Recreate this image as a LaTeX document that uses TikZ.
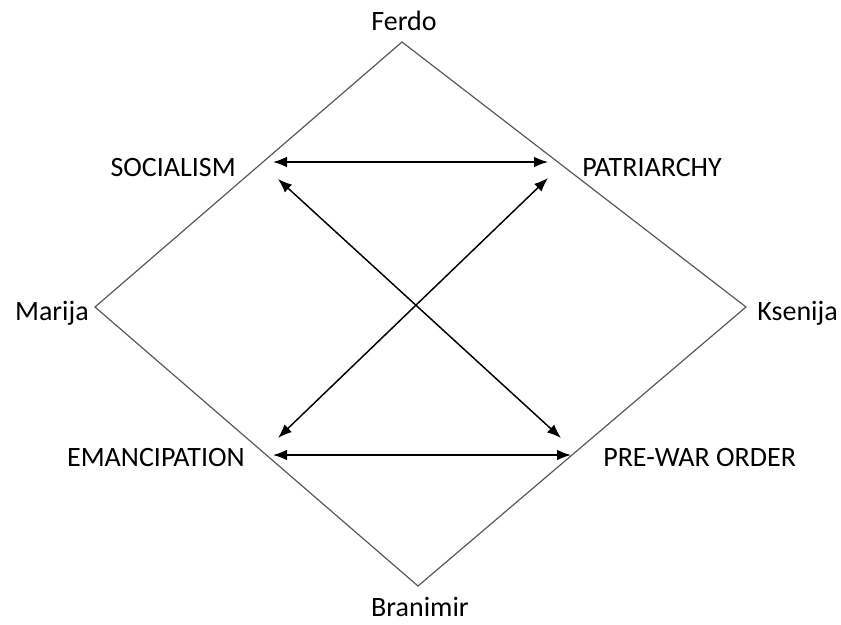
\documentclass[tikz,border=0pt]{standalone}
\usepackage{fontspec}
\setmainfont{Carlito}
\usetikzlibrary{arrows.meta}
\tikzset{
    lbl/.style={black, font=\fontsize{21}{25}\selectfont, inner sep=0pt},
    edge/.style={draw=black!65, line width=0.9pt},
    link/.style={draw=black, line width=1.1pt, {Latex[length=10.5pt,width=8pt]}-{Latex[length=10.5pt,width=8pt]}}
}
\begin{document}
\begin{tikzpicture}[x=0.75pt, y=-0.75pt]
            \useasboundingbox (0,0) rectangle (841,624);
            % corners of the square
            \coordinate (top) at (402,42);
            \coordinate (lft) at (95,307);
            \coordinate (rgt) at (746,307);
            \coordinate (bot) at (418,586);
            \draw[edge] (top) -- (rgt) -- (bot) -- (lft) -- cycle;
            % names
            \node[lbl, anchor=south] (ferdo) at (404,31) {Ferdo};
            \node[lbl, anchor=east] (marija) at (89,313) {Marija};
            \node[lbl, anchor=west] (ksenija) at (757,313) {Ksenija};
            \node[lbl, anchor=north] (branimir) at (420,597) {Branimir};
            % values
            \node[lbl, anchor=east] (soc) at (236,168) {SOCIALISM};
            \node[lbl, anchor=west] (pat) at (582,168) {PATRIARCHY};
            \node[lbl, anchor=east] (eman) at (245,458) {EMANCIPATION};
            \node[lbl, anchor=west] (war) at (603,458) {PRE-WAR ORDER};
            % arrow ends
            \coordinate (soc-a) at (273,162);
            \coordinate (soc-b) at (278,179);
            \coordinate (pat-a) at (548,162);
            \coordinate (pat-b) at (548,178);
            \coordinate (eman-a) at (278,438);
            \coordinate (eman-b) at (273,455);
            \coordinate (war-a) at (561,438);
            \coordinate (war-b) at (571,455);
            \draw[link] (soc-a) -- (pat-a);
            \draw[link] (soc-b) -- (war-a);
            \draw[link] (pat-b) -- (eman-a);
            \draw[link] (eman-b) -- (war-b);
        \end{tikzpicture}
\end{document}
